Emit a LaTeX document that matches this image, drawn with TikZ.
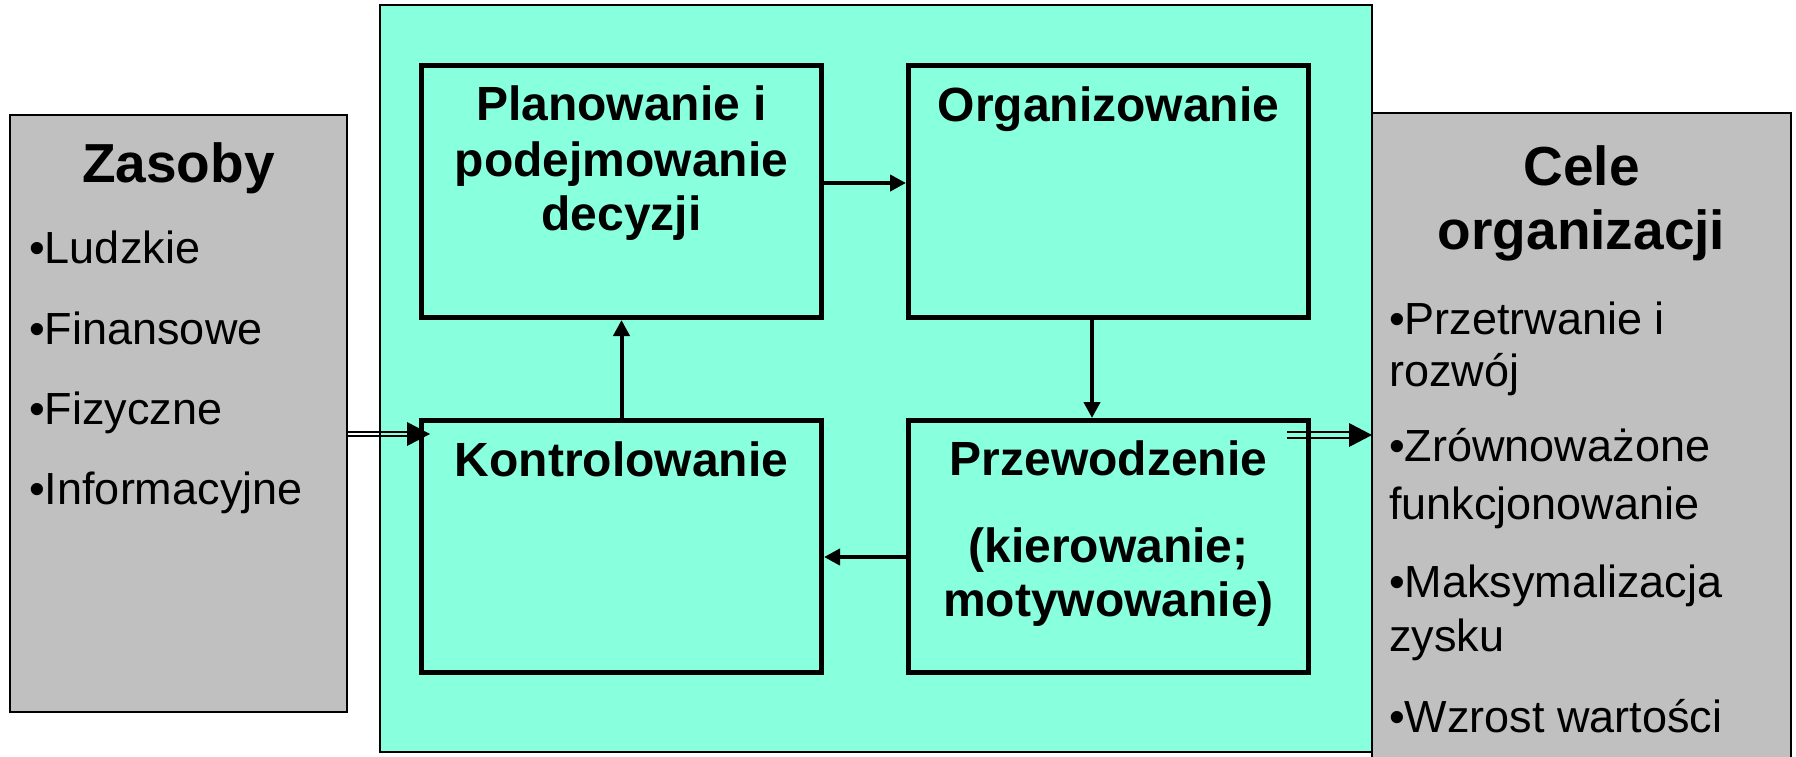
\documentclass[tikz,border=0pt]{standalone}
\usepackage{fontspec}
\setmainfont{Liberation Sans}
\usetikzlibrary{arrows.meta,calc}
\definecolor{corefill}{RGB}{136,255,221}
\definecolor{sidefill}{RGB}{192,192,192}

\begin{document}
\begin{tikzpicture}[x=1pt,y=-1pt,
  outerbox/.style={draw=black,line width=1.5pt,inner sep=0pt,outer sep=0pt},
  stage/.style={draw=black,line width=5pt,inner sep=0pt,minimum width=400pt,minimum height=252pt},
  title/.style={font=\fontsize{55}{66}\selectfont\bfseries,inner sep=0pt,anchor=base},
  stagetxt/.style={font=\fontsize{48}{57}\selectfont\bfseries,inner sep=0pt,anchor=base},
  item/.style={font=\fontsize{45}{54}\selectfont,inner sep=0pt,anchor=base west},
  flow/.style={line width=4pt,-{Triangle[length=16pt,width=16pt]}},
  rail/.style={line width=2pt},
]
\useasboundingbox (0,0) rectangle (1796,756);
\clip (0,0) rectangle (1796,756);

% resources, management core, goals
\node[outerbox,fill=sidefill,minimum width=337pt,minimum height=597pt] (zasoby) at (178.5,413.5) {};
\node[outerbox,fill=corefill,minimum width=992pt,minimum height=747pt] (core) at (876,378.5) {};
\node[outerbox,fill=sidefill,minimum width=419pt,minimum height=700pt] (cele) at (1581.5,463) {};

% the four management functions
\node[stage] (plan) at (621.5,191.5) {};
\node[stage] (org)  at (1108.5,191.5) {};
\node[stage] (kon)  at (621.5,546.5) {};
\node[stage] (prz)  at (1108.5,546.5) {};

\node[stagetxt] (plan1) at (621.5,120) {Planowanie i};
\node[stagetxt] (plan2) at (621.5,176) {podejmowanie};
\node[stagetxt] (plan3) at (621.5,230) {decyzji};
\node[stagetxt] (org1)  at (1108.5,121) {Organizowanie};
\node[stagetxt] (kon1)  at (621.5,476) {Kontrolowanie};
\node[stagetxt] (prz1)  at (1108.5,475) {Przewodzenie};
\node[stagetxt] (prz2)  at (1108.5,562) {(kierowanie;};
\node[stagetxt] (prz3)  at (1108.5,616) {motywowanie)};

% cycle of functions
\draw[flow] ([yshift=8.5pt]plan.east) -- ([yshift=8.5pt]org.west);
\draw[flow] ([xshift=-16.5pt]org.south) -- ([xshift=-16.5pt]prz.north);
\draw[flow] ([yshift=-10.5pt]prz.west) -- ([yshift=-10.5pt]kon.east);
\draw[flow] (kon.north) -- (plan.south);

% resources in, goals out
\coordinate (inTip) at (430,434);
\coordinate (inFrom) at (zasoby.east |- inTip);
\draw[rail] ($(inFrom)+(0,-2)$) -- ($(inTip)+(-22,-2)$);
\draw[rail] ($(inFrom)+(0,2)$) -- ($(inTip)+(-22,2)$);
\fill (inTip) -- ++(-23,-12) -- ++(0,24) -- cycle;

\coordinate (outFrom) at (1287,435);
\coordinate (outTip) at (cele.west |- outFrom);
\draw[rail] ($(outFrom)+(0,-3)$) -- ($(outTip)+(-22,-3)$);
\draw[rail] ($(outFrom)+(0,3)$) -- ($(outTip)+(-22,3)$);
\fill (outTip) -- ++(-23,-12) -- ++(0,24) -- cycle;

% left panel text
\node[title] (zasobyT) at (178.5,182) {Zasoby};
\node[item] (z1) at (29,263) {•Ludzkie};
\node[item] (z2) at (29,344) {•Finansowe};
\node[item] (z3) at (29,424) {•Fizyczne};
\node[item] (z4) at (29,504) {•Informacyjne};

% right panel text
\node[title] (celeT1) at (1581.5,185) {Cele};
\node[title] (celeT2) at (1581.5,249) {organizacji};
\node[item] (c1a) at (1389,334) {•Przetrwanie i};
\node[item] (c1b) at (1389,386) {rozwój};
\node[item] (c2a) at (1389,461) {•Zrównoważone};
\node[item] (c2b) at (1389,519) {funkcjonowanie};
\node[item] (c3a) at (1389,597) {•Maksymalizacja};
\node[item] (c3b) at (1389,651) {zysku};
\node[item] (c4)  at (1389,732) {•Wzrost wartości};
\end{tikzpicture}
\end{document}
